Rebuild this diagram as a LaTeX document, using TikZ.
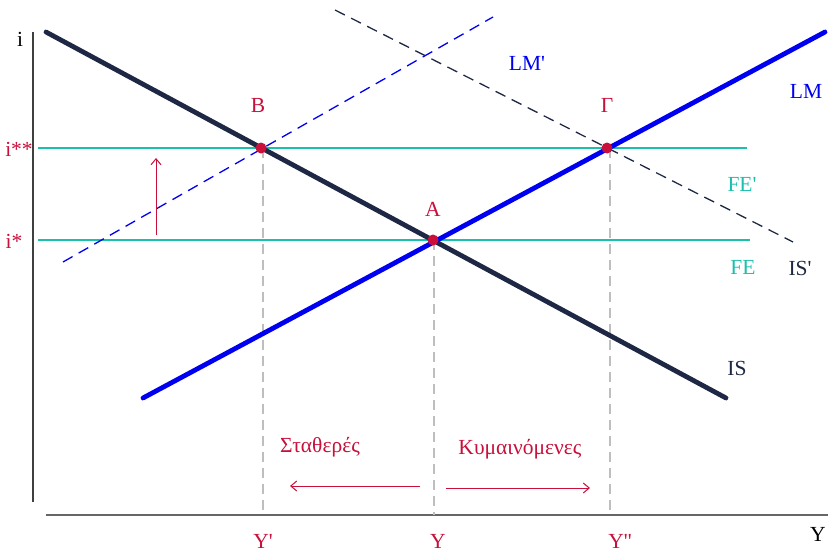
\documentclass[tikz,border=0pt]{standalone}
\usepackage{fontspec}
\setmainfont{Liberation Serif}
\usetikzlibrary{arrows.meta}
\definecolor{is-navy}{RGB}{30,40,68}
\definecolor{lm-blue}{RGB}{0,0,240}
\definecolor{fe-teal}{RGB}{26,192,172}
\definecolor{pt-red}{RGB}{200,16,58}
\definecolor{guide-gray}{RGB}{190,190,190}
\newcommand{\pr}{\textquotesingle}

\begin{document}
\begin{tikzpicture}[x=1pt, y=-1pt, font=\fontsize{21.5}{24}\selectfont,
  every node/.style={inner sep=1pt},
  curve/.style={line width=4.8pt, line cap=round},
  fe/.style={fe-teal, line width=2.8pt},
  shifted/.style={line width=1.3pt, dash pattern=on 11pt off 7pt},
  guide/.style={guide-gray, line width=1.2pt, dash pattern=on 10pt off 6pt},
  move/.style={pt-red, line width=1pt, -{Straight Barb[length=6pt, width=10pt]}},
  eqpt/.style={circle, fill=pt-red, inner sep=0pt, minimum size=11pt}]
  \useasboundingbox (0,0) rectangle (830,554);

  % Axes
  \coordinate (ytop) at (33,32);
  \coordinate (ybot) at (33,502);
  \coordinate (xleft) at (46,515);
  \coordinate (xright) at (828,515);
  \draw[black!75, line width=1.2pt] (ytop) -- (ybot);
  \draw[black!60, line width=2pt] (xleft) -- (xright);
  \node (ilab) at (20,39) {i};
  \node (Ylab) at (818,534) {Y};

  % Guides verticales
  \foreach \x/\y/\nm in {263/148/Yp, 434/240/Y0, 610/148/Ypp}{
    \coordinate (g\nm) at (\x,\y);
    \coordinate (f\nm) at (\x,515);
    \draw[guide] (g\nm) -- (f\nm);
  }

  % FE et FE'
  \coordinate (fe1a) at (38,240);
  \coordinate (fe1b) at (750,240);
  \coordinate (fe2a) at (38,148);
  \coordinate (fe2b) at (747,148);
  \draw[fe] (fe1a) -- (fe1b);
  \draw[fe] (fe2a) -- (fe2b);

  % Courbes deplacees
  \coordinate (lmpa) at (63,262);
  \coordinate (lmpb) at (493,17);
  \draw[shifted, lm-blue] (lmpa) -- (lmpb);
  \coordinate (ispa) at (335,10);
  \coordinate (ispb) at (793,242);
  \draw[shifted, is-navy] (ispa) -- (ispb);

  % IS et LM
  \coordinate (isa) at (46,32);
  \coordinate (isb) at (726,398);
  \draw[curve, is-navy] (isa) -- (isb);
  \coordinate (lma) at (143,398);
  \coordinate (lmb) at (825,32);
  \draw[curve, lm-blue] (lma) -- (lmb);

  % Points d'equilibre
  \node[eqpt] (A) at (433,240) {};
  \node[eqpt] (B) at (261,148) {};
  \node[eqpt] (G) at (607,148) {};

  % Fleche FE -> FE'
  \coordinate (upa) at (156,235);
  \coordinate (upb) at (156,158);
  \draw[move] (upa) -- (upb);

  % Fleches en bas
  \coordinate (la) at (420,486);
  \coordinate (lb) at (290,486);
  \coordinate (ra) at (446,488);
  \coordinate (rb) at (590,488);
  \draw[move] (la) -- (lb);
  \draw[move] (ra) -- (rb);

  % Etiquettes
  \node[pt-red] (Blab) at (258,105) {B};
  \node[pt-red] (Glab) at (607,105) {Γ};
  \node[pt-red] (Alab) at (433,209) {A};
  \node[lm-blue] (LMp) at (527,63) {LM\pr};
  \node[lm-blue] (LM) at (806,91) {LM};
  \node[fe-teal] (FEp) at (742,184) {FE\pr};
  \node[fe-teal] (FE) at (743,267) {FE};
  \node[is-navy] (ISp) at (800,268) {IS\pr};
  \node[is-navy] (IS) at (737,368) {IS};
  \node[pt-red] (iss) at (19,149) {i**};
  \node[pt-red] (is) at (14,241) {i*};
  \node[pt-red] (Ypl) at (263,541) {Y\pr};
  \node[pt-red] (Y0l) at (438,541) {Y};
  \node[pt-red] (Yppl) at (620,541) {Y\pr\pr};
  \node[pt-red] (fix) at (320,447) {Σταθερές};
  \node[pt-red] (flt) at (520,449) {Κυμαινόμενες};
\end{tikzpicture}
\end{document}
